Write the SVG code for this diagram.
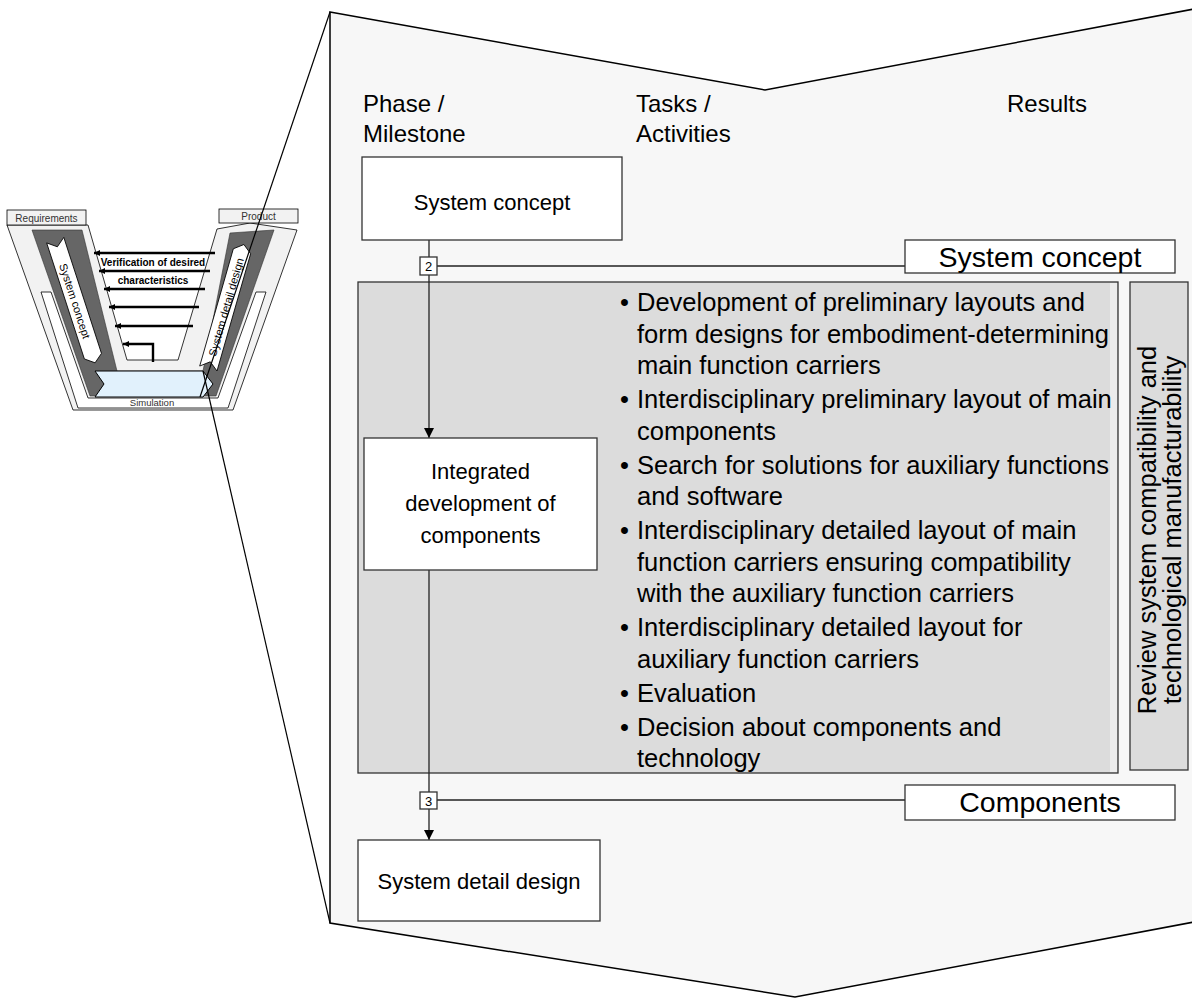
<svg xmlns="http://www.w3.org/2000/svg" width="1192" height="998" viewBox="0 0 1192 998">
  <style>
    text { font-family: "Liberation Sans", Arial, sans-serif; fill: #000; }
    .box { fill: #fff; stroke: #333; stroke-width: 1.3; }
    .hdr { font-size: 24px; }
    .node { font-size: 22px; text-anchor: middle; }
    .res { font-size: 28.5px; text-anchor: middle; }
    .bul { font-size: 25.5px; }
    .num { font-size: 13px; text-anchor: middle; }
    .wire { stroke: #222; stroke-width: 1.3; fill: none; }
    .vline { stroke: #000; stroke-width: 2.4; fill: none; }
    .mini { font-size: 10px; fill: #333; }
    .minib { font-size: 10px; font-weight: bold; text-anchor: middle; }
  </style>
  <defs>
    <marker id="arrow" markerUnits="userSpaceOnUse" markerWidth="11" markerHeight="11" refX="10" refY="5" orient="auto">
      <path d="M0,0 L10,5 L0,10 z" fill="#000"/>
    </marker>
    <marker id="arrowSmall" markerUnits="userSpaceOnUse" markerWidth="7" markerHeight="7" refX="6" refY="3" orient="auto">
      <path d="M0,0 L6,3 L0,6 z" fill="#000"/>
    </marker>
  </defs>

  <!-- miniature V-model -->
  <g id="v-model">
    <polygon points="7,225 88,225 127,360 178,360 217,229 250,223 297,230 233,410 73,410" fill="#f2f2f2" stroke="#000" stroke-width="0.8"/>
    <polygon points="32,230 82,230 117,371 203,371 230,233 274,230 216,396 90,396" fill="#666" stroke="#333" stroke-width="0.6"/>
    <polygon points="41,292 51,292 88,398 218,398 256,292 266,292 228,408 78,408" fill="#fff" stroke="#000" stroke-width="0.8"/>
    <text class="mini" x="152" y="406" text-anchor="middle" style="font-size:9.5px">Simulation</text>
    <rect x="7" y="210" width="79" height="15" fill="#f2f2f2" stroke="#000" stroke-width="0.8"/>
    <text class="mini" x="46.5" y="221.5" text-anchor="middle">Requirements</text>
    <rect x="219" y="209" width="79" height="14" fill="#f2f2f2" stroke="#000" stroke-width="0.8"/>
    <text class="mini" x="258.5" y="220" text-anchor="middle">Product</text>
    <g transform="translate(75,301) rotate(72)">
      <polygon points="-64,-9 58,-9 65,0 58,9 -64,9 -57,0" fill="#fff" stroke="#000" stroke-width="0.8"/>
      <text x="0" y="4" text-anchor="middle" style="font-size:11px">System concept</text>
    </g>
    <g transform="translate(226,307) rotate(-74)">
      <polygon points="-64,-9 58,-9 65,0 58,9 -64,9 -57,0" fill="#fff" stroke="#000" stroke-width="0.8"/>
      <text x="0" y="4" text-anchor="middle" style="font-size:11px">System detail design</text>
    </g>
    <polygon points="95,371 203,371 213,384 203,397 95,397 104,384" fill="#e1f1fc" stroke="#000" stroke-width="1"/>
    <line class="vline" x1="215" y1="253" x2="94" y2="253" marker-end="url(#arrowSmall)"/>
    <line class="vline" x1="210" y1="271" x2="99" y2="271" marker-end="url(#arrowSmall)"/>
    <line class="vline" x1="205" y1="289" x2="104" y2="289" marker-end="url(#arrowSmall)"/>
    <line class="vline" x1="199" y1="307" x2="109" y2="307" marker-end="url(#arrowSmall)"/>
    <line class="vline" x1="193" y1="326" x2="115" y2="326" marker-end="url(#arrowSmall)"/>
    <polyline class="vline" points="153,362 153,344 123,344" marker-end="url(#arrowSmall)"/>
    <text class="minib" x="153" y="266">Verification of desired</text>
    <text class="minib" x="153" y="284">characteristics</text>
  </g>

  <!-- magnified panel -->
  <polygon id="panel" points="330,12 765,90 1194,9 1194,922 795,997 330,923" fill="#f7f7f7" stroke="#000" stroke-width="1.5"/>
  <g id="zoom-lines" stroke="#000" stroke-width="1.2">
    <line x1="330" y1="12" x2="200" y2="397"/>
    <line x1="330" y1="923" x2="203" y2="371"/>
  </g>

  <g id="headers">
    <text class="hdr" x="363" y="112">Phase /</text>
    <text class="hdr" x="363" y="142">Milestone</text>
    <text class="hdr" x="636" y="112">Tasks /</text>
    <text class="hdr" x="636" y="142">Activities</text>
    <text class="hdr" x="1007" y="112">Results</text>
  </g>

  <g id="tasks-area">
    <rect x="358" y="282" width="760" height="491" fill="#dcdcdc" stroke="#333" stroke-width="1.3"/>
    <rect x="1110" y="283" width="7" height="489" fill="#ececec"/>
    <g class="bul">
      <text x="620" y="311">•</text>
      <text x="637" y="311">Development of preliminary layouts and</text>
      <text x="637" y="342.5">form designs for embodiment-determining</text>
      <text x="637" y="374">main function carriers</text>
      <text x="620" y="408">•</text>
      <text x="637" y="408">Interdisciplinary preliminary layout of main</text>
      <text x="637" y="439.5">components</text>
      <text x="620" y="473.5">•</text>
      <text x="637" y="473.5">Search for solutions for auxiliary functions</text>
      <text x="637" y="505">and software</text>
      <text x="620" y="539">•</text>
      <text x="637" y="539">Interdisciplinary detailed layout of main</text>
      <text x="637" y="570.5">function carriers ensuring compatibility</text>
      <text x="637" y="602">with the auxiliary function carriers</text>
      <text x="620" y="636">•</text>
      <text x="637" y="636">Interdisciplinary detailed layout for</text>
      <text x="637" y="667.5">auxiliary function carriers</text>
      <text x="620" y="701.5">•</text>
      <text x="637" y="701.5">Evaluation</text>
      <text x="620" y="735.5">•</text>
      <text x="637" y="735.5">Decision about components and</text>
      <text x="637" y="767">technology</text>
    </g>
  </g>

  <g id="review">
    <rect x="1130" y="282" width="58" height="488" fill="#dcdcdc" stroke="#333" stroke-width="1.3"/>
    <g transform="translate(1159,530) rotate(-90)">
      <text x="0" y="-3" text-anchor="middle" style="font-size:25.5px">Review system compatibility and</text>
      <text x="0" y="22" text-anchor="middle" style="font-size:25.5px">technological manufacturability</text>
    </g>
  </g>

  <!-- connectors -->
  <g id="connectors">
    <line class="wire" x1="429" y1="240" x2="429" y2="257"/>
    <line class="wire" x1="429" y1="275" x2="429" y2="438" marker-end="url(#arrow)"/>
    <line class="wire" x1="437" y1="266" x2="905" y2="266"/>
    <line class="wire" x1="429" y1="570" x2="429" y2="792"/>
    <line class="wire" x1="429" y1="809" x2="429" y2="840" marker-end="url(#arrow)"/>
    <line class="wire" x1="437" y1="800" x2="905" y2="800"/>
  </g>

  <g id="node-system-concept">
    <rect class="box" x="362" y="157" width="260" height="83"/>
    <text class="node" x="492" y="210">System concept</text>
  </g>
  <g id="milestone-2">
    <rect class="box" x="420" y="257" width="17" height="18"/>
    <text class="num" x="428.5" y="271">2</text>
  </g>
  <g id="result-system-concept">
    <rect class="box" x="905" y="240" width="270" height="33"/>
    <text class="res" x="1040" y="267">System concept</text>
  </g>
  <g id="node-integrated">
    <rect class="box" x="364" y="438" width="233" height="132"/>
    <text class="node" x="480.5" y="479">Integrated</text>
    <text class="node" x="480.5" y="511">development of</text>
    <text class="node" x="480.5" y="543">components</text>
  </g>
  <g id="milestone-3">
    <rect class="box" x="420" y="792" width="17" height="17"/>
    <text class="num" x="428.5" y="805.5">3</text>
  </g>
  <g id="result-components">
    <rect class="box" x="905" y="785" width="270" height="35"/>
    <text class="res" x="1040" y="812">Components</text>
  </g>
  <g id="node-system-detail-design">
    <rect class="box" x="358" y="840" width="242" height="81"/>
    <text class="node" x="479" y="889">System detail design</text>
  </g>
</svg>
